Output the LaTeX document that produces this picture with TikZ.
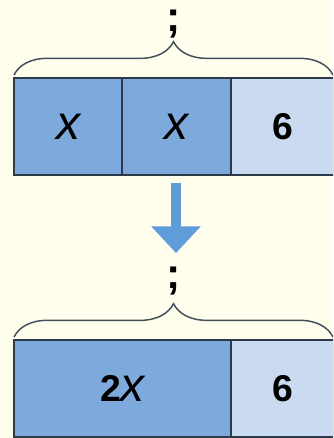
\documentclass[tikz,border=0pt]{standalone}
\usepackage{fontspec}
\setmainfont{Liberation Sans}
\usetikzlibrary{arrows.meta,decorations.pathreplacing}
\definecolor{cream}{HTML}{FFFDEB}
\definecolor{partdark}{HTML}{7DA9DC}
\definecolor{partlight}{HTML}{CADAF1}
\definecolor{edge}{HTML}{2E3A4A}
\definecolor{arrowblue}{HTML}{5E9CDA}
\tikzstyle{cell} = [draw=edge, line width=1.5pt, rectangle, inner sep=0pt,
    minimum height=72.75pt, font=\fontsize{28}{30}\selectfont\bfseries]
\tikzstyle{unknown} = [cell, fill=partdark]
\tikzstyle{known} = [cell, fill=partlight]
\tikzstyle{brace} = [draw=edge!90, line width=1.1pt,
    decorate, decoration={brace, amplitude=25pt}]
\tikzstyle{total} = [font=\fontsize{32}{34}\selectfont\bfseries, inner sep=0pt]
\tikzstyle{flow} = [draw=arrowblue, line width=7.5pt,
    -{Triangle[width=36pt,length=20pt]}]
\newcommand{\varx}{{\fontsize{36}{36}\selectfont\mdseries\itshape x}}

\begin{document}
\begin{tikzpicture}[x=0.75pt, y=-0.75pt]
\useasboundingbox (0,0) rectangle (333,438);
\fill[cream] (0,0) rectangle (333,438);
\clip (0,0) rectangle (333,438);

% x + x + 6
\node[unknown, minimum width=81pt, name=xa] at (68,126.5) {\varx};
\node[unknown, minimum width=81.75pt, name=xb] at (176.5,126.5) {\varx};
\node[known, minimum width=77.25pt, name=six] at (282.5,126.5) {6};
\coordinate (bl1) at (14,75);
\coordinate (br1) at (333,75);
\draw[brace] (bl1) -- (br1);
\node[total, name=sum1] at (174,24) {;};

\coordinate (arrtop) at (176,183);
\coordinate (arrend) at (176,253);
\draw[flow] (arrtop) -- (arrend);

% 2x + 6
\node[total, name=sum2] at (174,281) {;};
\coordinate (bl2) at (14,337);
\coordinate (br2) at (333,337);
\draw[brace] (bl2) -- (br2);
\node[unknown, minimum width=162.75pt, name=twox] at (122.5,388.5) {2\varx};
\node[known, minimum width=77.25pt, name=sixb] at (282.5,388.5) {6};

\end{tikzpicture}
\end{document}
